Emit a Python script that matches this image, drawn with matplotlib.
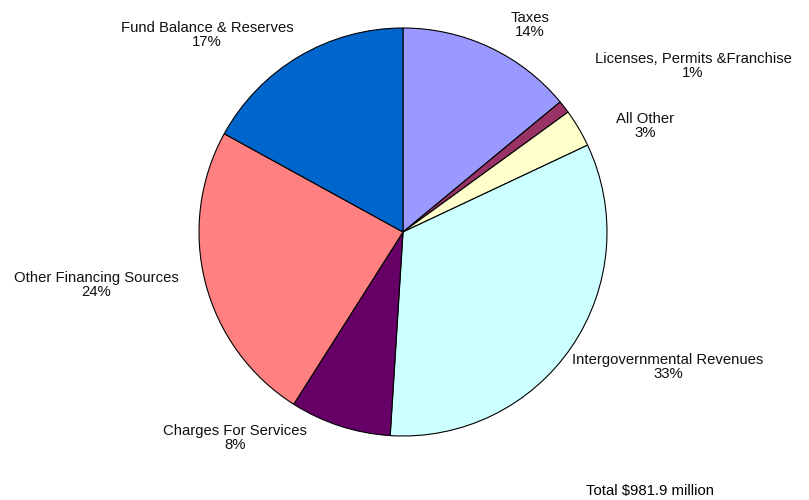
import matplotlib.pyplot as plt

# revenue sources, percent of total
labels = ["Taxes", "Licenses, Permits &Franchise", "All Other",
          "Intergovernmental Revenues", "Charges For Services",
          "Other Financing Sources", "Fund Balance & Reserves"]
shares = [14, 1, 3, 33, 8, 24, 17]
colors = ["#9999FF", "#993366", "#FFFFCC", "#CCFFFF",
          "#660066", "#FF8080", "#0066CC"]

# label anchor points in pixels (x from left, y from top)
label_pos = [(530, 25), (693, 66), (645, 126), (668, 367),
             (235, 438), (96, 285), (207, 35)]

W, H = 809, 500
cx, cy, r = 403, 232, 204

plt.rcParams["font.family"] = ["Liberation Sans", "DejaVu Sans"]
fig = plt.figure(figsize=(W / 100, H / 100), dpi=100)
ax = fig.add_axes([(cx - r) / W, (H - cy - r) / H, 2 * r / W, 2 * r / H])
ax.pie(shares, colors=colors, startangle=90, counterclock=False,
       wedgeprops=dict(edgecolor="black", linewidth=0.8))
ax.set_xlim(-1.0, 1.0)
ax.set_ylim(-1.0, 1.0)
ax.set_aspect("equal")
ax.axis("off")

for lab, val, (px, py) in zip(labels, shares, label_pos):
    fig.text(px / W, 1 - py / H, f"{lab}\n{val}%", ha="center", va="center",
             fontsize=10.7, color="#111111", linespacing=1.05)

fig.text(650 / W, 1 - 491 / H, "Total $981.9 million", ha="center",
         va="center", fontsize=10.7, color="black")

fig.savefig("out.png", dpi=100)
